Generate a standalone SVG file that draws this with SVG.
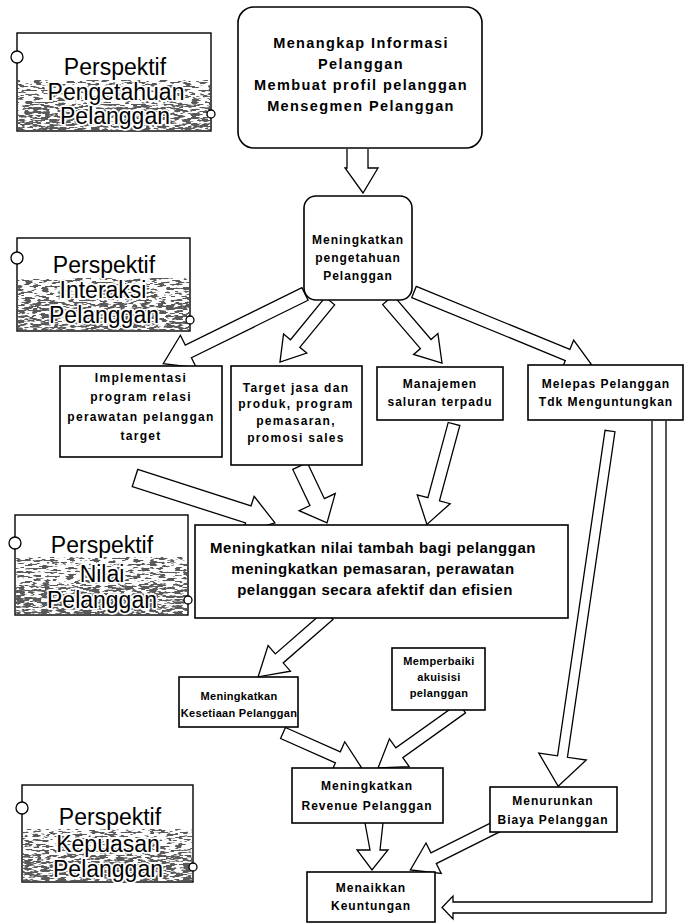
<svg xmlns="http://www.w3.org/2000/svg" width="685" height="924" viewBox="0 0 685 924">
<defs>
<style>
.box{fill:#fff;stroke:#000;stroke-width:1.6}
.arr{fill:#fff;stroke:#000;stroke-width:1.3;stroke-linejoin:miter}
.t{font-family:"Liberation Sans",Arial,sans-serif;font-weight:bold;fill:#000;text-anchor:middle}
.p{font-family:"Liberation Sans",Arial,sans-serif;font-size:23px;fill:#000;text-anchor:middle;stroke:#fff;stroke-width:3.5;paint-order:stroke;stroke-linejoin:round}
.lbl{fill:#fff;stroke:#000;stroke-width:1.4}
.c{fill:#fff;stroke:#000;stroke-width:1.3}
</style>
<filter id="light" x="0" y="0" width="1" height="1">
<feTurbulence type="fractalNoise" baseFrequency="0.12 0.5" numOctaves="2" seed="5"/>
<feColorMatrix type="matrix" values="0 0 0 0 0.1 0 0 0 0 0.1 0 0 0 0 0.1 -14 0 0 0 6.8"/>
</filter>
<filter id="dense" x="0" y="0" width="1" height="1">
<feTurbulence type="fractalNoise" baseFrequency="0.12 0.5" numOctaves="2" seed="9"/>
<feColorMatrix type="matrix" values="0 0 0 0 0.1 0 0 0 0 0.1 0 0 0 0 0.1 -14 0 0 0 7.6"/>
</filter>
</defs>

<g id="connectors">
<path class="arr" d="M347,149 V168 H345 L363,193 L378,168 H368 V149"/>
<g transform="translate(305,294) rotate(153.8)"><path class="arr" d="M0,-7 H130 V-18 L158,0 L130,18 V7 H0 Z"/></g>
<g transform="translate(330,301) rotate(129.3)"><path class="arr" d="M0,-6 H55 V-15 L79,0 L55,15 V6 H0 Z"/></g>
<g transform="translate(388,300) rotate(49.4)"><path class="arr" d="M0,-7 H58 V-16 L83,0 L58,16 V7 H0 Z"/></g>
<g transform="translate(414,292) rotate(22.3)"><path class="arr" d="M0,-6 H166 V-16 L192,0 L166,16 V6 H0 Z"/></g>
<g transform="translate(135,478) rotate(17.8)"><path class="arr" d="M0,-9 H119 V-19 L147,0 L119,19 V9 H0 Z"/></g>
<g transform="translate(300,466) rotate(64.6)"><path class="arr" d="M0,-8 H40 V-20 L63,0 L40,20 V8 H0 Z"/></g>
<g transform="translate(454,424) rotate(105.1)"><path class="arr" d="M0,-6 H78 V-17 L104,0 L78,17 V6 H0 Z"/></g>
<g transform="translate(610,431) rotate(98.3)"><path class="arr" d="M0,-5 H329 V-24 L359,0 L329,24 V5 H0 Z"/></g>
<g transform="translate(329,615) rotate(138.9)"><path class="arr" d="M0,-6 H66 V-17 L94,0 L66,17 V6 H0 Z"/></g>
<g transform="translate(283,733) rotate(23.9)"><path class="arr" d="M0,-6 H60 V-17 L86,0 L60,17 V6 H0 Z"/></g>
<g transform="translate(462,708) rotate(144.5)"><path class="arr" d="M0,-6 H77 V-17 L103,0 L77,17 V6 H0 Z"/></g>
<path class="arr" d="M365,823 L370,850 H357 L372,870 L388,850 H380 L383,823"/>
<g transform="translate(498,826) rotate(153.4)"><path class="arr" d="M0,-6 H72 V-17 L98,0 L72,17 V6 H0 Z"/></g>
<path class="arr" d="M652,421 V902 H453 V896 L442,907.5 L453,919 V913 H666 V421"/>
</g>

<g id="label-pengetahuan">
<rect class="lbl" x="17" y="33" width="194" height="98"/>
<rect x="18" y="80" width="192" height="24" filter="url(#light)"/>
<rect x="18" y="104" width="192" height="26" filter="url(#dense)"/>
<text class="p" x="115" y="75">Perspektif</text>
<text class="p" x="116" y="100">Pengetahuan</text>
<text class="p" x="115" y="124">Pelanggan</text>
<circle class="c" cx="17" cy="57" r="6"/>
<circle class="c" cx="211" cy="114" r="4"/>
</g>

<g id="label-interaksi">
<rect class="lbl" x="17" y="238" width="173" height="93"/>
<rect x="18" y="278" width="171" height="24" filter="url(#light)"/>
<rect x="18" y="302" width="171" height="28" filter="url(#dense)"/>
<text class="p" x="104" y="273">Perspektif</text>
<text class="p" x="103" y="298">Interaksi</text>
<text class="p" x="104" y="323">Pelanggan</text>
<circle class="c" cx="17" cy="258" r="6"/>
<circle class="c" cx="190" cy="320" r="4"/>
</g>

<g id="label-nilai">
<rect class="lbl" x="15" y="515" width="173" height="100"/>
<rect x="16" y="557" width="171" height="28" filter="url(#light)"/>
<rect x="16" y="585" width="171" height="29" filter="url(#dense)"/>
<text class="p" x="102" y="553">Perspektif</text>
<text class="p" x="102" y="582">Nilai</text>
<text class="p" x="102" y="608">Pelanggan</text>
<circle class="c" cx="15" cy="543" r="6"/>
<circle class="c" cx="188" cy="600" r="4"/>
</g>

<g id="label-kepuasan">
<rect class="lbl" x="22" y="785" width="171" height="97"/>
<rect x="23" y="829" width="169" height="26" filter="url(#light)"/>
<rect x="23" y="855" width="169" height="26" filter="url(#dense)"/>
<text class="p" x="110" y="825">Perspektif</text>
<text class="p" x="108" y="852">Kepuasan</text>
<text class="p" x="108" y="877">Pelanggan</text>
<circle class="c" cx="22" cy="808" r="6"/>
<circle class="c" cx="193" cy="867" r="4"/>
</g>

<g id="n-informasi">
<rect class="box" x="238" y="7" width="244" height="141" rx="16"/>
<text class="t" font-size="14.5" letter-spacing="1.4" x="361" y="48">Menangkap Informasi</text>
<text class="t" font-size="14.5" letter-spacing="1.4" x="361" y="69">Pelanggan</text>
<text class="t" font-size="14.5" letter-spacing="1.4" x="361" y="90">Membuat profil pelanggan</text>
<text class="t" font-size="14.5" letter-spacing="1.4" x="361" y="111">Mensegmen Pelanggan</text>
</g>

<g id="n-pengetahuan">
<rect class="box" x="304" y="196" width="108" height="104" rx="12"/>
<text class="t" font-size="12" letter-spacing="1" x="358" y="244">Meningkatkan</text>
<text class="t" font-size="12" letter-spacing="1" x="358" y="262">pengetahuan</text>
<text class="t" font-size="12" letter-spacing="1" x="358" y="280">Pelanggan</text>
</g>

<g id="n-implementasi">
<rect class="box" x="60" y="366" width="162" height="91"/>
<text class="t" font-size="12" letter-spacing="1.3" x="141" y="382">Implementasi</text>
<text class="t" font-size="12" letter-spacing="1.3" x="141" y="401">program relasi</text>
<text class="t" font-size="12" letter-spacing="1.3" x="141" y="421">perawatan pelanggan</text>
<text class="t" font-size="12" letter-spacing="1.3" x="141" y="440">target</text>
</g>

<g id="n-target">
<rect class="box" x="231" y="366" width="131" height="99"/>
<text class="t" font-size="12" letter-spacing="1.3" x="296" y="392">Target jasa dan</text>
<text class="t" font-size="12" letter-spacing="1.3" x="296" y="408">produk, program</text>
<text class="t" font-size="12" letter-spacing="1.3" x="296" y="425">pemasaran,</text>
<text class="t" font-size="12" letter-spacing="1.3" x="296" y="442">promosi sales</text>
</g>

<g id="n-manajemen">
<rect class="box" x="377" y="367" width="126" height="53"/>
<text class="t" font-size="12" letter-spacing="1" x="440" y="388">Manajemen</text>
<text class="t" font-size="12" letter-spacing="1" x="440" y="406">saluran terpadu</text>
</g>

<g id="n-melepas">
<rect class="box" x="528" y="365" width="155" height="55"/>
<text class="t" font-size="12" letter-spacing="1" x="606" y="388">Melepas Pelanggan</text>
<text class="t" font-size="12" letter-spacing="1" x="606" y="406">Tdk Menguntungkan</text>
</g>

<g id="n-nilai">
<rect class="box" x="195" y="525" width="373" height="93"/>
<text class="t" font-size="15" letter-spacing="0.5" x="373" y="553">Meningkatkan nilai tambah bagi pelanggan</text>
<text class="t" font-size="15" letter-spacing="0.5" x="373" y="574">meningkatkan pemasaran, perawatan</text>
<text class="t" font-size="15" letter-spacing="0.5" x="375" y="595">pelanggan secara afektif dan efisien</text>
</g>

<g id="n-kesetiaan">
<rect class="box" x="179" y="677" width="119" height="50"/>
<text class="t" font-size="11" letter-spacing="0.3" x="239" y="700">Meningkatkan</text>
<text class="t" font-size="11" letter-spacing="0.3" x="239" y="717">Kesetiaan Pelanggan</text>
</g>

<g id="n-akuisisi">
<rect class="box" x="392" y="648" width="93" height="62"/>
<text class="t" font-size="11" letter-spacing="0.4" x="439" y="665">Memperbaiki</text>
<text class="t" font-size="11" letter-spacing="0.4" x="439" y="681">akuisisi</text>
<text class="t" font-size="11" letter-spacing="0.4" x="439" y="697">pelanggan</text>
</g>

<g id="n-revenue">
<rect class="box" x="292" y="768" width="151" height="55"/>
<text class="t" font-size="12" letter-spacing="1" x="367" y="790">Meningkatkan</text>
<text class="t" font-size="12" letter-spacing="1" x="367" y="810">Revenue Pelanggan</text>
</g>

<g id="n-biaya">
<rect class="box" x="490" y="787" width="127" height="45"/>
<text class="t" font-size="12" letter-spacing="1" x="553" y="805">Menurunkan</text>
<text class="t" font-size="12" letter-spacing="1" x="553" y="824">Biaya Pelanggan</text>
</g>

<g id="n-keuntungan">
<rect class="box" x="307" y="872" width="128" height="50"/>
<text class="t" font-size="12" letter-spacing="1" x="371" y="892">Menaikkan</text>
<text class="t" font-size="12" letter-spacing="1" x="371" y="910">Keuntungan</text>
</g>
</svg>
